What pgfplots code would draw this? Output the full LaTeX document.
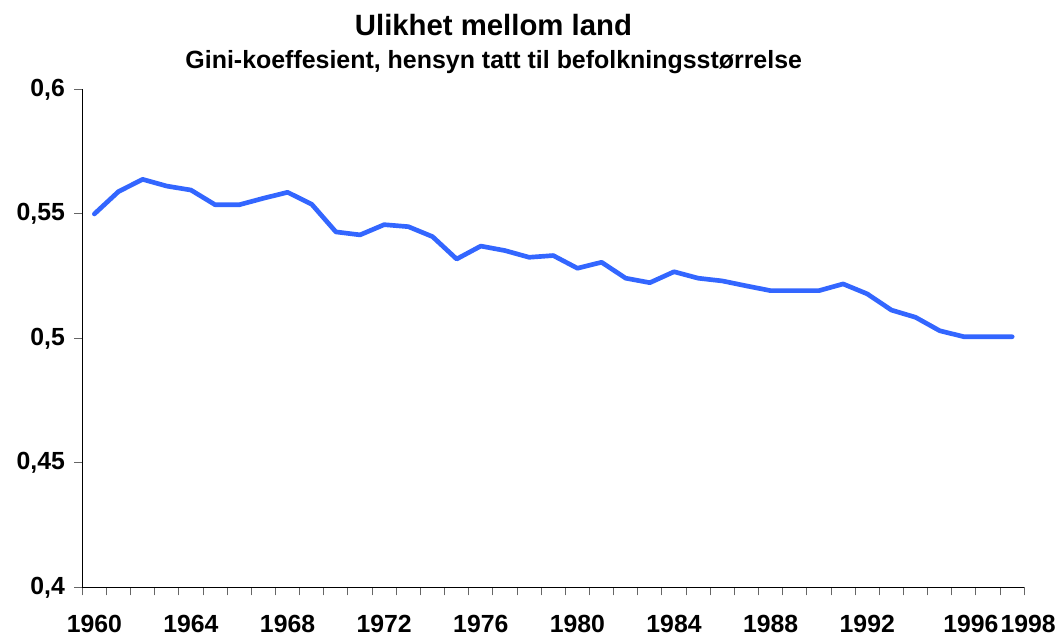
\documentclass[border=0pt]{standalone}
\usepackage{fontspec}
\setmainfont{Liberation Sans}
\usepackage{pgfplots}
\pgfplotsset{compat=1.18}
\definecolor{lineblue}{RGB}{51,102,255}
\begin{document}
\begin{tikzpicture}
\path[use as bounding box] (0,0) rectangle (792.75pt,477pt);
\node[anchor=base, font=\bfseries\fontsize{22pt}{26pt}\selectfont] at (370.1pt,450pt) {Ulikhet mellom land};
\node[anchor=base, font=\bfseries\fontsize{18.7pt}{22pt}\selectfont] at (370.3pt,425.8pt) {Gini-koeffesient, hensyn tatt til befolkningsstørrelse};
\begin{axis}[
  at={(61.7pt,36.4pt)}, anchor=south west,
  scale only axis, width=706.5pt, height=373.5pt,
  xmin=1959.5, xmax=1998.5, ymin=0.4, ymax=0.6,
  axis x line=bottom, axis y line=left,
  axis line style={-, black, line width=0.75pt},
  tick align=outside,
  major tick length=6pt,
  tick style={black!60, line width=0.75pt},
  xtick={1959.5,1960.5,...,1998.5},
  xticklabels={},
  extra x ticks={1960,1964,1968,1972,1976,1980,1984,1988,1992,1996,1998},
  extra x tick labels={1960,1964,1968,1972,1976,1980,1984,1988,1992,\hspace*{10.5pt}1996,\hspace*{24pt}1998},
  extra x tick style={tick style={draw=none}, xticklabel style={yshift=-11.5pt}},
  ytick={0.4,0.45,0.5,0.55,0.6},
  yticklabel style={xshift=-3.5pt, /pgf/number format/.cd, use comma, fixed, fixed zerofill=false, precision=2, assume math mode=true},
  ticklabel style={font=\bfseries\fontsize{18.6pt}{22pt}\selectfont},
  clip=false,
]
\addplot[lineblue, line width=3.5pt, line join=round, line cap=round] coordinates {
(1960,0.5500) (1961,0.5590) (1962,0.5639) (1963,0.5612) (1964,0.5596)
(1965,0.5537) (1966,0.5537) (1967,0.5563) (1968,0.5587) (1969,0.5539)
(1970,0.5428) (1971,0.5416) (1972,0.5457) (1973,0.5449) (1974,0.5409)
(1975,0.5319) (1976,0.5371) (1977,0.5353) (1978,0.5326) (1979,0.5333)
(1980,0.5282) (1981,0.5306) (1982,0.5242) (1983,0.5224) (1984,0.5268)
(1985,0.5242) (1986,0.5231) (1987,0.5211) (1988,0.5192) (1989,0.5192)
(1990,0.5192) (1991,0.5219) (1992,0.5179) (1993,0.5114) (1994,0.5085)
(1995,0.5031) (1996,0.5007) (1997,0.5007) (1998,0.5007)
};
\end{axis}
\end{tikzpicture}
\end{document}
